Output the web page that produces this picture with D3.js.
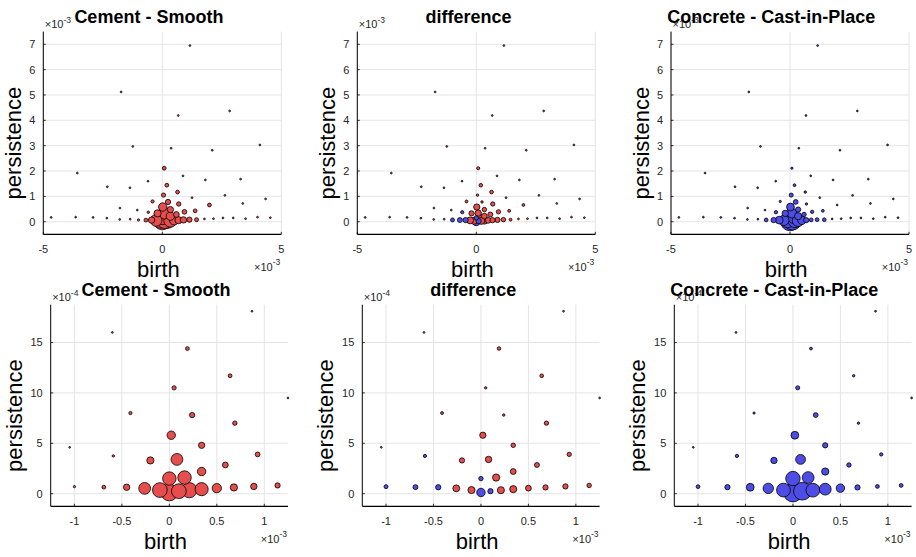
<!DOCTYPE html>
<html>
<head>
<meta charset="utf-8">
<script src="https://cdn.jsdelivr.net/npm/d3@7"></script>
<style>
body { margin: 0; background: #fff; }
svg { display: block; font-family: "Liberation Sans", Arial, sans-serif; }
</style>
</head>
<body>
<div id="container"></div>
<script>
// birth, persistence (both in units of 1e-3)
const points = [
    [1.16, 6.95], [-1.73, 5.12], [2.83, 4.37], [0.67, 4.19], [4.10, 3.03],
    [-1.24, 2.97], [0.37, 2.90], [2.10, 2.82], [0.08, 2.11], [-3.57, 1.92],
    [0.87, 1.81], [3.29, 1.68], [1.81, 1.65], [-0.60, 1.60], [0.19, 1.44],
    [-2.31, 1.38], [-1.36, 1.34], [0.64, 1.17], [0.05, 1.05], [2.63, 1.04],
    [1.25, 0.95], [4.34, 0.90], [-0.41, 0.80], [0.24, 0.78], [3.38, 0.72],
    [0.69, 0.70], [1.98, 0.66], [0.02, 0.58], [-1.78, 0.54], [0.34, 0.48],
    [-1.05, 0.46], [1.38, 0.43], [0.93, 0.39], [-0.59, 0.375], [0.08, 0.34],
    [-0.20, 0.33], [0.59, 0.285], [0.34, 0.22], [-4.67, 0.17], [-3.64, 0.18],
    [-2.91, 0.17], [-2.33, 0.14], [-1.79, 0.09], [-1.35, 0.10], [1.77, 0.11],
    [2.15, 0.12], [2.55, 0.15], [2.98, 0.15], [3.50, 0.12], [4.00, 0.18],
    [4.54, 0.16], [1.44, 0.08], [0.16, 0.16], [0.00, 0.15], [1.14, 0.082],
    [0.89, 0.072], [-1.00, 0.07], [-0.69, 0.065], [-0.45, 0.064], [0.68, 0.062],
    [0.50, 0.055], [-0.26, 0.053], [0.34, 0.045], [-0.10, 0.036], [0.21, 0.035],
    [0.10, 0.025], [0.00, 0.012]
];

const smoothWeight = [
    0, 0, 0, 0, 0,   0, 0, 0, 1, 0,   0, 0, 0, 0, 1,   0, 0, 1, 1.5, 0,
    0, 0, 0.5, 3, 0,   1.7, 1, 11, 0, 5,   0, 1, 2.2, 0.1, 25,   7.3, 4, 11, 0, 0,
    0, 0, 0, 0, 0,   0, 0, 0, 0, 0,   0, 1.2, 34, 34, 3,   5.3, 0.05, 1, 5.3, 7.3,
    14, 25, 32, 42, 45,   42, 56
];

const concreteWeight = [
    0, 0, 0, 0, 0,   0, 0, 0, 0.05, 0,   0, 0, 0, 0, 0.25,   0, 0, 0.1, 1.3, 0,
    0, 0, 0.05, 2.25, 0,   0.1, 0, 9, 0, 3,   0, 0.25, 0.6, 0.6, 16,   5.3, 1.7, 7.3, 0, 0,
    0, 0, 0, 0, 0,   0, 0, 0, 0, 0,   0, 0.9, 25, 40, 1,   1, 1, 3, 9, 3,
    11, 18.5, 25, 36, 36,   64, 72
];

// signed: positive = more in Cement - Smooth, negative = more in Concrete
const diffWeight = [
    0, 0, 0, 0, 0,   0, 0, 0, 0.4, 0,   0, 0, 0, 0, 0.8,   0, 0, 0.9, 0.1, 0,
    0, 0, 0.3, 0.1, 0,   1.6, 0.25, 5, 0, 1.8,   0, 0.3, 1.6, -0.5, 5.3,   3, 2.5, 4, 0, 0,
    0, 0, 0, 0, 0,   0, 0, 0, 0, 0,   0, 0.3, 7.3, -1.7, 1.8,   3, -1.2, -2.5, -3, 3,
    4, 6.5, 7, 7, 7,   -3, -11
];

const panelTitles = ["Cement - Smooth", "difference", "Concrete - Cast-in-Place"];
const topXTicks = [-5, 0, 5];
const topYTicks = [0, 1, 2, 3, 4, 5, 6, 7];
const zoomXTicks = [-1, -0.5, 0, 0.5, 1];
const zoomYTicks = [0, 5, 10, 15];   // x 1e-4

const red = "#e64d4d", blue = "#4d4de6";

let rows = [
    {top: 31.6, height: 202.8, lefts: [43.3, 357.3, 671], width: 238,
     xDomain: [-5, 5], yDomain: [-0.5, 7.5], xTicks: topXTicks, yTicks: topYTicks,
     yScaleDiv: 1, yExp: "-3", labelGap: 22},
    {top: 304.7, height: 201.6, lefts: [50.7, 362.3, 674.3], width: 237.3,
     xDomain: [-1.25, 1.25], yDomain: [-0.125, 1.875], xTicks: zoomXTicks, yTicks: zoomYTicks,
     yScaleDiv: 10, yExp: "-4", labelGap: 29}
];

let panelWeights = [smoothWeight, diffWeight, concreteWeight];

let svg = d3.select("#container").append("svg")
    .attr("width", 916)
    .attr("height", 557);

let rSize = d3.scaleSqrt().domain([0, 100]).range([0.9, 10.9]);

// labels in the reference sit a little toward their start
function nudge(sel) {
    sel.each(function() {
        let len = this.getComputedTextLength();
        d3.select(this).attr("x", +d3.select(this).attr("x") - 0.09 * len);
    });
}

rows.forEach(function(row) {
    row.lefts.forEach(function(left, k) {
        let right = left + row.width,
            bottom = row.top + row.height;
        let x = d3.scaleLinear().domain(row.xDomain).range([left, right]);
        let y = d3.scaleLinear().domain(row.yDomain).range([bottom, row.top]);
        let g = svg.append("g");

        // grid
        g.selectAll(".gx").data(row.xTicks).enter().append("line")
            .attr("x1", d => x(d)).attr("x2", d => x(d))
            .attr("y1", row.top).attr("y2", bottom)
            .style("stroke", "#e4e4e4").style("stroke-width", 1);
        g.selectAll(".gy").data(row.yTicks).enter().append("line")
            .attr("x1", left).attr("x2", right)
            .attr("y1", d => y(d / row.yScaleDiv)).attr("y2", d => y(d / row.yScaleDiv))
            .style("stroke", "#e4e4e4").style("stroke-width", 1);

        // markers
        let weights = panelWeights[k];
        let idx = d3.range(points.length).filter(function(i) {
            let p = points[i];
            return p[0] >= row.xDomain[0] - 1e-9 && p[0] <= row.xDomain[1] + 1e-9 &&
                   p[1] >= row.yDomain[0] && p[1] <= row.yDomain[1];
        });
        idx.sort((a, b) => Math.abs(weights[b]) - Math.abs(weights[a]));

        g.selectAll(".pt").data(idx).enter().append("circle")
            .attr("cx", i => x(points[i][0]))
            .attr("cy", i => y(points[i][1]))
            .attr("r", i => rSize(Math.abs(weights[i])))
            .style("fill", function(i) {
                if (k === 0) return red;
                if (k === 2) return blue;
                return weights[i] < 0 ? blue : red;
            })
            .style("stroke", "#000")
            .style("stroke-width", 0.8);

        // axes
        g.append("line").attr("x1", left).attr("x2", left)
            .attr("y1", row.top).attr("y2", bottom)
            .style("stroke", "#000").style("stroke-width", 1);
        g.append("line").attr("x1", left).attr("x2", right)
            .attr("y1", bottom).attr("y2", bottom)
            .style("stroke", "#000").style("stroke-width", 1.2);

        g.selectAll(".tx").data(row.xTicks).enter().append("line")
            .attr("x1", d => x(d)).attr("x2", d => x(d))
            .attr("y1", bottom).attr("y2", bottom - 2.5)
            .style("stroke", "#000").style("stroke-width", 0.8);
        g.selectAll(".ty").data(row.yTicks).enter().append("line")
            .attr("x1", left).attr("x2", left + 2.5)
            .attr("y1", d => y(d / row.yScaleDiv)).attr("y2", d => y(d / row.yScaleDiv))
            .style("stroke", "#000").style("stroke-width", 0.8);

        g.selectAll(".lx").data(row.xTicks).enter().append("text")
            .attr("x", d => x(d))
            .attr("y", bottom + 18.5)
            .attr("text-anchor", "middle")
            .style("font-size", "11px")
            .style("fill", "#262626")
            .text(d => String(d));
        g.selectAll(".ly").data(row.yTicks).enter().append("text")
            .attr("x", left - 8)
            .attr("y", d => y(d / row.yScaleDiv))
            .attr("dy", "0.36em")
            .attr("text-anchor", "end")
            .style("font-size", "11px")
            .style("fill", "#262626")
            .text(d => String(d));

        // exponent labels
        let ey = g.append("text")
            .attr("x", left + 1.5)
            .attr("y", row.top - 3.5)
            .style("fill", "#262626");
        ey.append("tspan").style("font-size", "11px").text("\u00d710");
        ey.append("tspan").attr("dy", -5.5).style("font-size", "8.5px").text(row.yExp);

        let ex = g.append("text")
            .attr("x", right - 1)
            .attr("y", bottom + 37)
            .attr("text-anchor", "end")
            .style("fill", "#262626");
        ex.append("tspan").style("font-size", "11px").text("\u00d710");
        ex.append("tspan").attr("dy", -6).style("font-size", "8.5px").text("-3");

        // axis labels
        g.append("text")
            .attr("x", (left + right) / 2)
            .attr("y", bottom + 43)
            .attr("text-anchor", "middle")
            .style("font-size", "22px")
            .style("fill", "#000")
            .text("birth")
            .call(nudge);

        g.append("g")
            .attr("transform", "translate(" + (left - row.labelGap) + "," + (row.top + row.height / 2) + ") rotate(-90)")
            .append("text")
            .attr("x", 0)
            .attr("y", 0)
            .attr("text-anchor", "middle")
            .style("font-size", "22px")
            .style("fill", "#000")
            .text("persistence")
            .call(nudge);

        // title
        g.append("text")
            .attr("x", (left + right) / 2)
            .attr("y", row.top - 8.3)
            .attr("text-anchor", "middle")
            .style("font-size", "18px")
            .style("font-weight", "bold")
            .style("fill", "#000")
            .text(panelTitles[k])
            .call(nudge);
    });
});
</script>
</body>
</html>
